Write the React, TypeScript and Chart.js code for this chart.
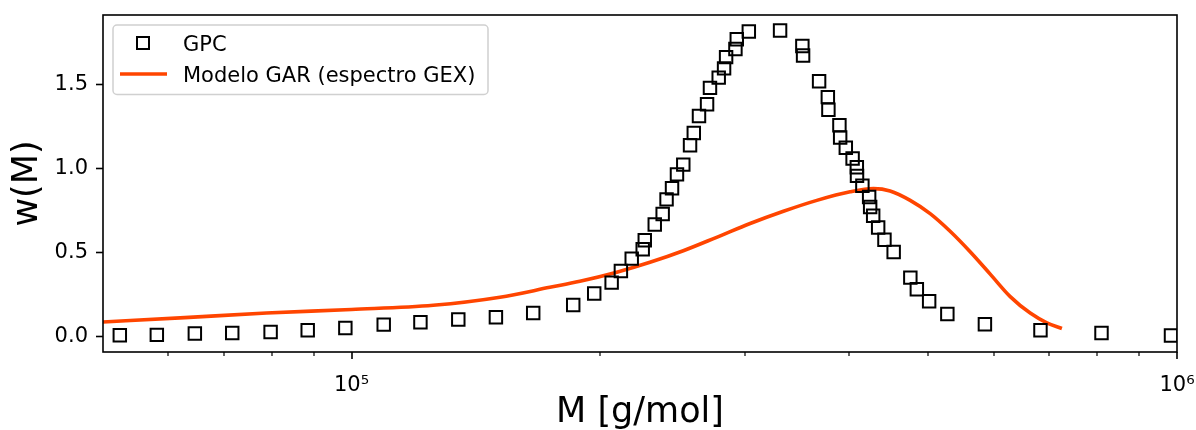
import React, { useEffect, useRef } from 'react';
import { Chart, registerables } from 'chart.js';

Chart.register(...registerables);

const FONT = "'DejaVu Sans', sans-serif";

// GPC data (molar mass M in g/mol, w(M))
const gpcM = [52400, 58100, 64600, 71700, 79800, 88500, 98300, 109400, 121200, 134700, 149600, 166000, 185600, 196800, 206600, 212000, 218500, 225300, 226600, 233000, 238200, 240800, 244500, 247900, 252300, 257100, 259800, 263600, 269600, 271800, 278500, 282700, 284300, 291800, 292900, 302900, 330500, 351700, 352400, 368500, 377600, 378200, 390000, 390800, 397000, 404600, 409400, 409600, 415800, 423700, 424900, 428500, 434500, 442200, 453700, 475300, 484000, 500900, 527000, 585200, 683300, 810100, 983400];
const gpcW = [0.008, 0.010, 0.018, 0.021, 0.027, 0.037, 0.051, 0.071, 0.085, 0.101, 0.115, 0.140, 0.188, 0.256, 0.321, 0.390, 0.464, 0.520, 0.573, 0.667, 0.730, 0.817, 0.883, 0.966, 1.024, 1.139, 1.212, 1.313, 1.383, 1.481, 1.542, 1.597, 1.664, 1.713, 1.770, 1.817, 1.823, 1.730, 1.674, 1.521, 1.426, 1.351, 1.258, 1.185, 1.124, 1.060, 1.008, 0.957, 0.898, 0.831, 0.771, 0.720, 0.649, 0.576, 0.504, 0.351, 0.282, 0.210, 0.134, 0.073, 0.038, 0.021, 0.006];

// GAR model curve
const modelM = [50000, 62800, 78900, 100000, 125600, 151300, 173900, 189100, 209600, 229900, 252300, 276900, 304000, 333600, 366200, 401800, 428900, 449200, 475100, 502300, 531100, 561600, 593900, 628000, 664000, 695600, 725400];
const modelW = [0.087, 0.113, 0.140, 0.161, 0.186, 0.234, 0.293, 0.329, 0.383, 0.442, 0.511, 0.591, 0.673, 0.746, 0.811, 0.862, 0.881, 0.867, 0.811, 0.732, 0.627, 0.505, 0.372, 0.238, 0.140, 0.082, 0.048];

const seriesLabels = ['GPC', 'Modelo GAR (espectro GEX)'];

const xTickValues = [60000, 70000, 80000, 90000, 100000, 200000, 300000, 400000, 500000, 600000, 700000, 800000, 900000, 1000000];
const xMajorTicks = [100000, 1000000];
const xTickLabels = ['10⁵', '10⁶'];
const yTickValues = [0, 0.5, 1, 1.5];

const GPC_COLOR = '#000000';
const MODEL_COLOR = '#ff4500';

export default function App() {
  const ref = useRef<HTMLCanvasElement>(null);

  useEffect(() => {
    const canvas = ref.current;
    if (!canvas) return;
    Chart.defaults.font.family = FONT;

    const framePlugin = {
      id: 'framePlugin',
      afterDraw(chart: any) {
        const { ctx, chartArea: a, scales } = chart;
        const xs = scales.x;
        ctx.save();
        ctx.strokeStyle = '#000';
        // x tick marks (major & minor)
        xs.ticks.forEach((t: any) => {
          const px = Math.round(xs.getPixelForValue(t.value));
          const major = xMajorTicks.includes(t.value);
          ctx.lineWidth = major ? 1.6 : 1.2;
          ctx.beginPath();
          ctx.moveTo(px, a.bottom);
          ctx.lineTo(px, a.bottom + (major ? 7 : 4));
          ctx.stroke();
        });
        // frame
        ctx.lineWidth = 1.6;
        ctx.strokeRect(a.left, a.top, a.right - a.left, a.bottom - a.top);

        // legend
        const lx = a.left + 10;
        const ly = a.top + 10;
        const lw = 375;
        const lh = 69.5;
        ctx.beginPath();
        if ((ctx as any).roundRect) {
          (ctx as any).roundRect(lx, ly, lw, lh, 4);
        } else {
          ctx.rect(lx, ly, lw, lh);
        }
        ctx.fillStyle = 'rgba(255,255,255,0.8)';
        ctx.fill();
        ctx.strokeStyle = '#d0d0d0';
        ctx.lineWidth = 1.5;
        ctx.stroke();

        const ds0 = chart.data.datasets[0];
        const ds1 = chart.data.datasets[1];
        // square marker
        ctx.strokeStyle = ds0.pointBorderColor;
        ctx.lineWidth = 2;
        ctx.strokeRect(a.left + 34, a.top + 22, 12, 12);
        // line sample
        ctx.strokeStyle = ds1.borderColor;
        ctx.lineWidth = ds1.borderWidth;
        ctx.beginPath();
        ctx.moveTo(a.left + 17, a.top + 59);
        ctx.lineTo(a.left + 64, a.top + 59);
        ctx.stroke();
        // texts
        ctx.fillStyle = '#000';
        ctx.font = `21px ${FONT}`;
        ctx.textAlign = 'left';
        ctx.textBaseline = 'alphabetic';
        ctx.fillText(ds0.label, a.left + 80, a.top + 36);
        ctx.fillText(ds1.label, a.left + 80, a.top + 67);
        ctx.restore();
      },
    };

    const chart = new Chart(canvas, {
      type: 'scatter',
      data: {
        datasets: [
          {
            label: seriesLabels[0],
            data: gpcM.map((m, i) => ({ x: m, y: gpcW[i] })),
            pointStyle: 'rect',
            pointRadius: 8.8,
            pointBorderWidth: 2,
            pointBorderColor: GPC_COLOR,
            pointBackgroundColor: 'rgba(0,0,0,0)',
            showLine: false,
            clip: 0,
          } as any,
          {
            label: seriesLabels[1],
            data: modelM.map((m, i) => ({ x: m, y: modelW[i] })),
            borderColor: MODEL_COLOR,
            backgroundColor: MODEL_COLOR,
            borderWidth: 3.6,
            pointRadius: 0,
            showLine: true,
            cubicInterpolationMode: 'monotone',
            clip: 0,
          } as any,
        ],
      },
      options: {
        animation: false,
        responsive: false,
        devicePixelRatio: 1,
        events: [],
        layout: { padding: { top: 15, right: 19, bottom: 0, left: 0 } },
        plugins: {
          legend: { display: false },
          tooltip: { enabled: false },
        },
        scales: {
          x: {
            type: 'logarithmic',
            position: 'bottom',
            min: 50000,
            max: 1000000,
            afterBuildTicks: (s: any) => {
              s.ticks = xTickValues.map((v) => ({ value: v, major: xMajorTicks.includes(v) }));
            },
            afterFit: (s: any) => {
              s.height = 78;
              s.paddingLeft = 0;
              s.paddingRight = 0;
            },
            grid: { display: false },
            border: { display: false },
            ticks: {
              autoSkip: false,
              maxRotation: 0,
              minRotation: 0,
              padding: 13,
              color: '#000',
              font: { size: 21, family: FONT },
              callback: (v: any) => {
                const i = xMajorTicks.indexOf(Number(v));
                return i >= 0 ? xTickLabels[i] : '';
              },
            },
            title: {
              display: true,
              text: 'M [g/mol]',
              color: '#000',
              font: { size: 35, family: FONT, lineHeight: 1.0 },
              padding: { top: 0, bottom: 0 },
            },
          },
          y: {
            type: 'linear',
            min: -0.092,
            max: 1.915,
            afterBuildTicks: (s: any) => {
              s.ticks = yTickValues.map((v) => ({ value: v }));
            },
            afterFit: (s: any) => {
              s.width = 103;
              s.paddingTop = 0;
              s.paddingBottom = 0;
            },
            grid: {
              drawOnChartArea: false,
              drawTicks: true,
              tickLength: 7,
              tickWidth: 1.6,
              tickColor: '#000',
            },
            border: { display: false },
            ticks: {
              padding: 8,
              color: '#000',
              font: { size: 21, family: FONT },
              callback: (v: any) => Number(v).toFixed(1),
            },
            title: {
              display: true,
              text: 'w(M)',
              color: '#000',
              font: { size: 35, family: FONT },
              padding: { top: 7, bottom: 0 },
            },
          },
        },
      } as any,
      plugins: [framePlugin],
    });

    return () => chart.destroy();
  }, []);

  return (
    <div style={{ position: 'absolute', left: 0, top: 0, width: 1196, height: 430, background: '#fff' }}>
      <canvas ref={ref} width={1196} height={430} style={{ display: 'block' }} />
    </div>
  );
}
